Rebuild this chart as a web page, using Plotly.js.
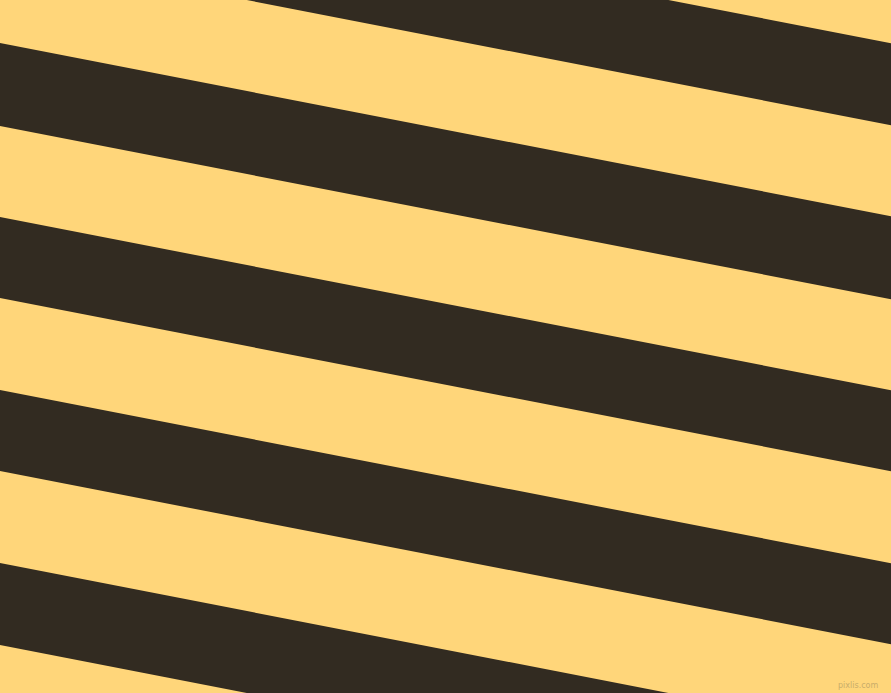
<!DOCTYPE html>
<html>
<head>
<meta charset="utf-8">
<script src="https://cdn.plot.ly/plotly-3.0.1.min.js"></script>
<style>
  html, body { margin: 0; padding: 0; background: #ffd67a; }
  #chart { width: 891px; height: 693px; }
</style>
</head>
<body>
<div id="chart"></div>
<script>
// dark band edges where they meet the left border (pixels from top)
var bandTop = [-130, 43, 217, 390, 563];
var bandBottom = [-48, 126, 298, 471, 645];
// how far a band drops across the width
var drop = 173.3;
var W = 891, H = 693;

var traces = bandTop.map(function(t, i) {
  var b = bandBottom[i];
  return {
    x: [0, W, W, 0, 0],
    y: [t, t + drop, b + drop, b, t],
    type: 'scatter',
    mode: 'lines',
    fill: 'toself',
    fillcolor: '#322b21',
    line: {width: 0, color: '#322b21'},
    hoverinfo: 'skip',
    showlegend: false
  };
});

var layout = {
  width: W,
  height: H,
  margin: {l: 0, r: 0, t: 0, b: 0},
  paper_bgcolor: '#ffd67a',
  plot_bgcolor: '#ffd67a',
  xaxis: {range: [0, W], visible: false, fixedrange: true},
  yaxis: {range: [H, 0], visible: false, fixedrange: true},
  annotations: [{
    text: 'pixlis.com',
    x: 880, y: 685, xref: 'x', yref: 'y',
    xanchor: 'right', yanchor: 'middle',
    showarrow: false,
    font: {family: 'DejaVu Sans', size: 8, color: '#c9ad6a'}
  }]
};

Plotly.newPlot('chart', traces, layout, {staticPlot: true, displayModeBar: false});
</script>
</body>
</html>
